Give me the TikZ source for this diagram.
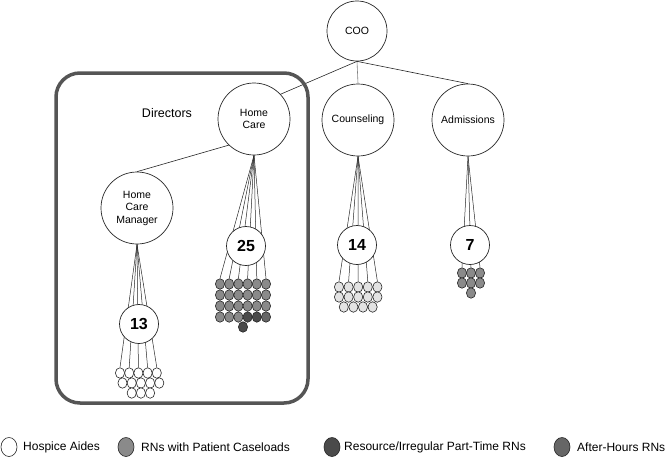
\documentclass[tikz,border=0pt]{standalone}
\usepackage{fontspec}
\setmainfont{Liberation Sans}
\usepackage{xcolor}
\usetikzlibrary{shapes.geometric, backgrounds}
\definecolor{rngray}{HTML}{8A8A8A}
\definecolor{resgray}{HTML}{4A4A4A}
\definecolor{ahgray}{HTML}{666666}
\definecolor{lightaide}{HTML}{E3E3E3}
\definecolor{boxgray}{HTML}{555555}
\tikzset{
  role/.style={circle, draw=black!85, fill=white, line width=0.7pt, minimum size=72pt, inner sep=0pt, align=center, font=\fontsize{10.5}{12.5}\selectfont},
  headcount/.style={circle, draw=black!85, fill=white, line width=0.7pt, minimum size=39pt, inner sep=0pt, font=\fontsize{16}{16}\selectfont\bfseries},
  staff/.style={ellipse, draw=black!85, line width=0.6pt, minimum width=9.2pt, minimum height=10.5pt, inner sep=0pt},
  aide/.style={staff, fill=white},
  aidelt/.style={staff, fill=lightaide},
  rn/.style={staff, fill=rngray},
  res/.style={staff, fill=resgray},
  ah/.style={staff, fill=ahgray},
  fan/.style={black!85, line width=0.5pt},
  link/.style={black!85, line width=0.6pt},
  legdot/.style={ellipse, draw=black!85, line width=0.6pt, minimum width=16pt, minimum height=19pt, inner sep=0pt},
  legtext/.style={anchor=west, inner sep=0pt, font=\fontsize{12}{14}\selectfont}
}
\begin{document}
\begin{tikzpicture}[x=1pt,y=-1pt]
\useasboundingbox (0,0) rectangle (666,458);
\node[role, minimum size=60pt] (coo) at (357,31) {COO};
\node[role] (hc) at (254,119) {Home\\Care};
\node[role] (cou) at (358,120) {Counseling};
\node[role] (adm) at (468,120) {Admissions};
\node[role] (hcm) at (137,208) {Home\\Care\\Manager};
\draw[link] (coo.south) -- (hc.43);
\draw[black!50, line width=0.6pt] (coo.south) -- (cou.north);
\draw[link] (coo.south) -- (adm.north);
\draw[link] (hc.226) -- (hcm.north);
\draw[boxgray, line width=3.5pt, rounded corners=24pt] (56,73) rectangle (308,403);
\node[font=\fontsize{12.5}{14}\selectfont] (dir) at (167,113) {Directors};

% home care RNs
\foreach \r/\y in {1/284,2/295,3/306} {
  \foreach \c/\x in {1/220,2/229.2,3/238.4,4/247.6,5/256.8,6/266} {\node[rn] (hcs\r\c) at (\x,\y) {};}
}
\node[rn] (hcs41) at (220,317) {};
\node[rn] (hcs42) at (229.2,317) {};
\node[rn] (hcs43) at (238.4,317) {};
\node[res] (hcs44) at (247.6,317) {};
\node[res] (hcs45) at (256.8,317) {};
\node[ah] (hcs46) at (266,317) {};
\node[res] (hcs5) at (243,327) {};
% counseling
\foreach \r/\y in {1/287,2/297} {
  \foreach \c/\x in {1/339,2/348.6,3/358.2,4/367.8,5/377.4} {\node[aidelt] (cs\r\c) at (\x,\y) {};}
}
\foreach \c/\x in {1/343.8,2/353.4,3/363,4/372.6} {\node[aidelt] (cs3\c) at (\x,307) {};}
% admissions
\foreach \r/\y in {1/273,2/283} {
  \foreach \c/\x in {1/462,2/471,3/480} {\node[rn] (as\r\c) at (\x,\y) {};}
}
\node[rn] (as31) at (471,293) {};
% home care manager aides
\foreach \c/\x in {1/120,2/129.2,3/138.4,4/147.6,5/156.8} {\node[aide] (ms1\c) at (\x,373) {};}
\foreach \c/\x in {1/122.5,2/131.7,3/140.9,4/150.1,5/159.3} {\node[aide] (ms2\c) at (\x,383) {};}
\foreach \c/\x in {1/131.7,2/140.9,3/150.1} {\node[aide] (ms3\c) at (\x,393) {};}

\node[headcount] (n25) at (246,246) {25};
\node[headcount] (n14) at (357,245) {14};
\node[headcount] (n7) at (470,245) {7};
\node[headcount] (n13) at (139,324) {13};

\begin{scope}[on background layer]
  \foreach \c in {1,...,6} {\draw[fan] (hc.south) -- (hcs1\c.north);}
  \foreach \c in {1,...,5} {\draw[fan] (cou.south) -- (cs1\c.north);}
  \foreach \c in {1,2,3} {\draw[fan] (adm.south) -- (as1\c.north);}
  \foreach \c in {1,...,5} {\draw[fan] (hcm.south) -- (ms1\c.north);}
\end{scope}

% legend
\node[legdot, fill=white] (k1) at (9,447) {};
\node[legtext] (k1t) at (23,447) {Hospice Aides};
\node[legdot, fill=rngray] (k2) at (126,447) {};
\node[legtext] (k2t) at (141,447) {RNs with Patient Caseloads};
\node[legdot, fill=resgray] (k3) at (332,447) {};
\node[legtext] (k3t) at (344,447) {Resource/Irregular Part-Time RNs};
\node[legdot, fill=ahgray] (k4) at (562,447) {};
\node[legtext] (k4t) at (577,447) {After-Hours RNs};
\end{tikzpicture}
\end{document}
